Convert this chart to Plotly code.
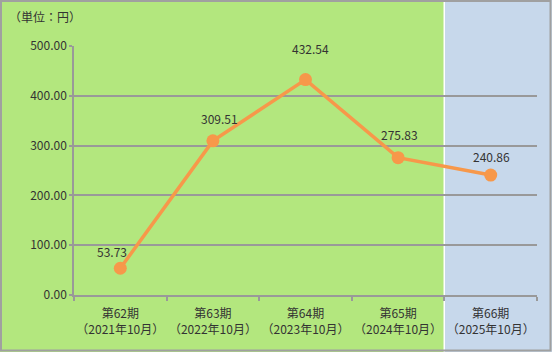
import plotly.graph_objects as go

periods = ["第62期", "第63期", "第64期", "第65期", "第66期"]
dates = ["（2021年10月）", "（2022年10月）", "（2023年10月）", "（2024年10月）", "（2025年10月）"]
values = [53.73, 309.51, 432.54, 275.83, 240.86]
y_ticks = [0, 100, 200, 300, 400, 500]
unit_label = "（単位：円）"

# label offsets (pixels) for data labels, styling only
label_dx = [-8, 7, 5, 1, 1]
label_dy = [17, 22, 31, 23, 19]

W, H = 552, 352
L, R, T, B = 74, 15, 46, 57
pw = W - L - R
ph = H - T - B

def px_x(p):
    return (p - L) / pw

def px_y(p):
    return 1 - (p - T) / ph

FONT = "Noto Sans CJK JP"
TXT = "#333333"
GRID = "#999999"
ORANGE = "#F7984A"

cats = [p + "<br>" + d for p, d in zip(periods, dates)]

fig = go.Figure()
fig.add_trace(go.Scatter(
    x=cats, y=values, mode="lines+markers",
    line=dict(color=ORANGE, width=3.5),
    marker=dict(color=ORANGE, size=13),
    hoverinfo="skip", showlegend=False, cliponaxis=False,
))

for c, v, dx, dy in zip(cats, values, label_dx, label_dy):
    fig.add_annotation(x=c, y=v, text=f"{v:.2f}", showarrow=False,
                       xshift=dx, yshift=dy, font=dict(family=FONT, size=12, color=TXT))

fig.add_annotation(xref="paper", yref="paper", x=px_x(7), y=px_y(17), xanchor="left",
                   yanchor="middle", text=unit_label, showarrow=False,
                   font=dict(family=FONT, size=12, color=TXT))

shapes = [
    dict(type="rect", xref="paper", yref="paper", x0=px_x(0), x1=px_x(443.5),
         y0=px_y(352), y1=px_y(0), fillcolor="#B3E77E", line=dict(width=0), layer="below"),
    dict(type="rect", xref="paper", yref="paper", x0=px_x(445), x1=px_x(552),
         y0=px_y(352), y1=px_y(0), fillcolor="#C7D8EB", line=dict(width=0), layer="below"),
    dict(type="rect", xref="paper", yref="paper", x0=px_x(1), x1=px_x(550.5),
         y0=px_y(350.5), y1=px_y(1), fillcolor="rgba(0,0,0,0)",
         line=dict(color="#A0A0A0", width=2), layer="above"),
]
fig.update_layout(shapes=shapes)

fig.update_layout(
    width=W, height=H, margin=dict(l=L, r=R, t=T, b=B, autoexpand=False),
    paper_bgcolor="white", plot_bgcolor="rgba(0,0,0,0)",
    font=dict(family=FONT, size=12, color=TXT),
    xaxis=dict(type="category", range=[-0.5, 4.5], tickson="boundaries", ticks="outside",
               ticklen=4, automargin=False, tickangle=0, ticklabelstandoff=7,
               tickcolor=GRID, tickwidth=1.5, showline=True, linecolor=GRID, linewidth=1.5,
               showgrid=False, tickfont=dict(family=FONT, size=12, color=TXT),
               fixedrange=True),
    yaxis=dict(range=[0, 500], tickvals=y_ticks, ticktext=[f"{t:.2f}" for t in y_ticks],
               showgrid=True, gridcolor=GRID, gridwidth=1.5, zeroline=False, automargin=False,
               showline=True, linecolor=GRID, linewidth=1.5,
               ticks="outside", ticklen=3, tickcolor=GRID, tickwidth=1.5,
               tickfont=dict(family=FONT, size=12, color=TXT), fixedrange=True),
)

fig.write_html("out.html")
